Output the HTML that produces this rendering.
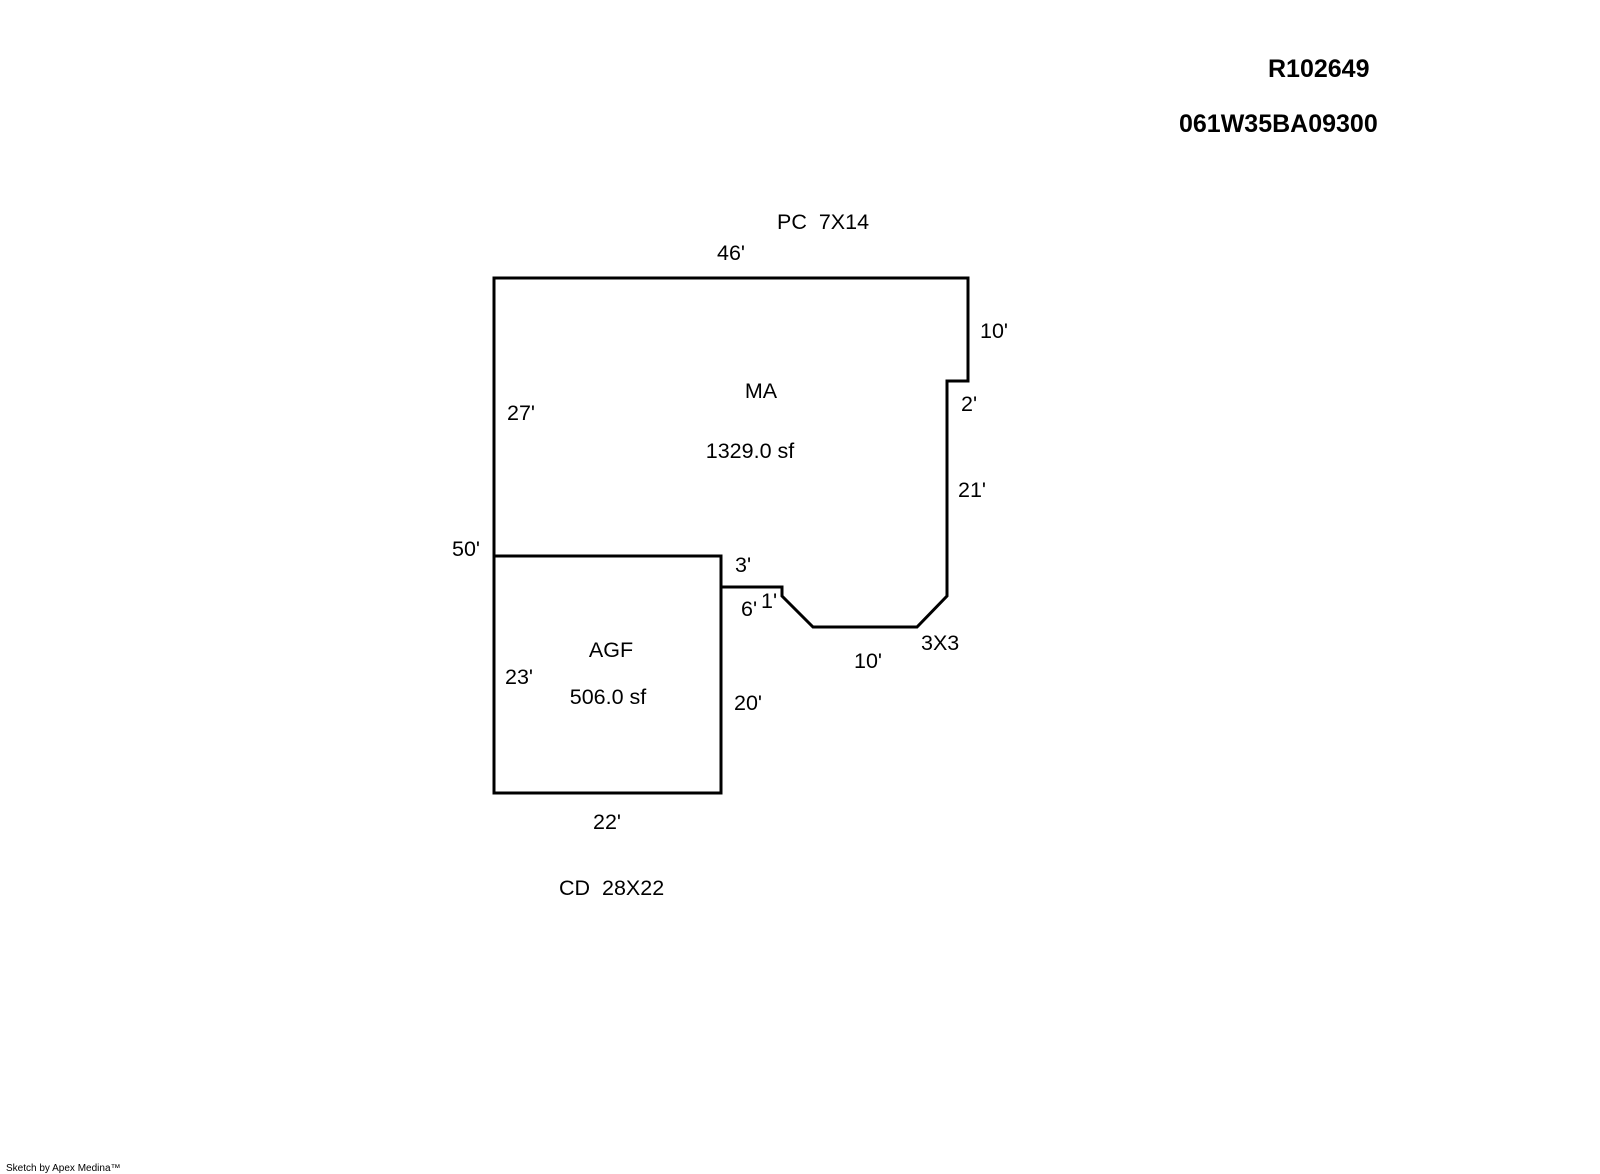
<!DOCTYPE html>
<html><head><meta charset="utf-8"><style>
html,body{margin:0;padding:0;background:#fff;width:1600px;height:1174px;overflow:hidden}
svg text{font-family:"Liberation Sans",Arial,sans-serif;font-size:21.5px;fill:#000}
</style></head><body>
<svg width="1600" height="1174" viewBox="0 0 1600 1174" xmlns="http://www.w3.org/2000/svg">
<g fill="none" stroke="#000" stroke-width="3" stroke-linejoin="miter">
<polyline points="494,556 494,278 968,278 968,381 947,381 947,596 917,627 813,627 782,596 782,587 721,587"/>
<rect x="494" y="556" width="227" height="237"/>
</g>
<text x="1268" y="77" style="font-size:25px;font-weight:bold">R102649</text>
<text x="1179" y="132" style="font-size:25px;font-weight:bold">061W35BA09300</text>
<text x="777" y="229" xml:space="preserve">PC  7X14</text>
<text x="717" y="260">46'</text>
<text x="980" y="338">10'</text>
<text x="761" y="398" text-anchor="middle">MA</text>
<text x="961" y="411">2'</text>
<text x="507" y="420">27'</text>
<text x="750" y="458" text-anchor="middle">1329.0 sf</text>
<text x="958" y="497">21'</text>
<text x="452" y="556">50'</text>
<text x="735" y="572">3'</text>
<text x="761" y="608">1'</text>
<text x="741" y="616">6'</text>
<text x="921" y="650">3X3</text>
<text x="854" y="668">10'</text>
<text x="611" y="657" text-anchor="middle">AGF</text>
<text x="505" y="684">23'</text>
<text x="608" y="704" text-anchor="middle">506.0 sf</text>
<text x="734" y="710">20'</text>
<text x="593" y="829">22'</text>
<text x="559" y="895" xml:space="preserve">CD  28X22</text>
<text x="6" y="1171" style="font-size:10px">Sketch by Apex Medina™</text>
</svg>
</body></html>
